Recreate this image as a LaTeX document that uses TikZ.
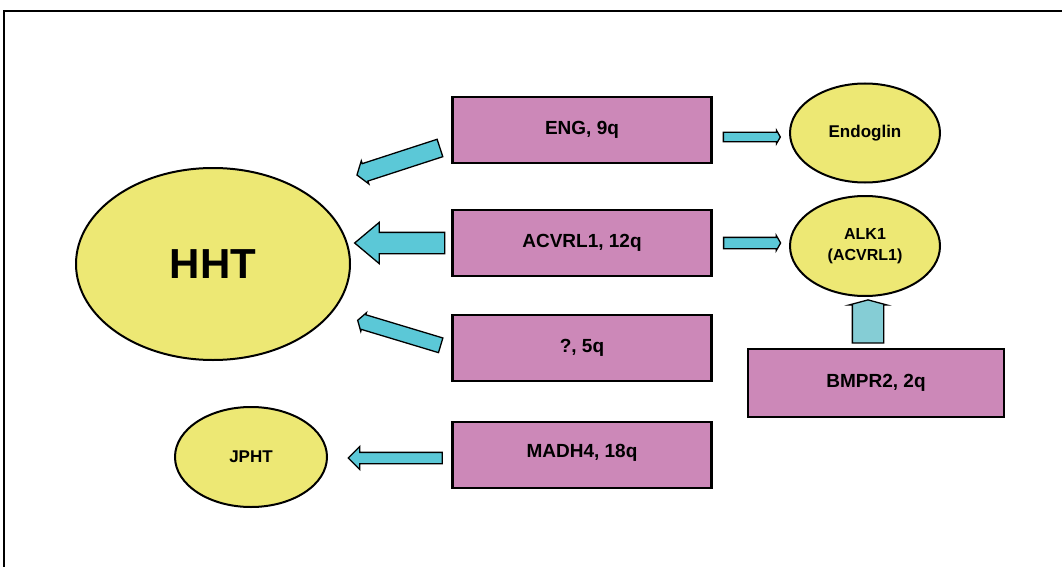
\documentclass[tikz,border=0pt]{standalone}
\usepackage{fontspec}
\setmainfont{Liberation Sans}
\usetikzlibrary{shapes.geometric,shapes.arrows,calc}
\definecolor{pinkbox}{HTML}{CC88B8}
\definecolor{yellowell}{HTML}{EDE874}
\definecolor{cyanarr}{HTML}{5BC8D7}
\definecolor{cyanlight}{HTML}{85CDD5}
\tikzset{
  ell/.style={ellipse, draw=black, line width=2pt, fill=yellowell, inner sep=0pt, font=\bfseries\fontsize{17}{20}\selectfont, align=center},
  gbox/.style={rectangle, draw=black, line width=2.5pt, fill=pinkbox, minimum width=259pt, minimum height=66pt, inner sep=0pt, font=\bfseries\fontsize{19}{22}\selectfont},
  barrow/.style={single arrow, draw=black, line width=1.3pt, fill=cyanarr, inner xsep=0pt, single arrow head indent=0pt},
}
\newcommand\blockarrow[3]{%
  \path let \p1=(#1), \p2=(#2), \n1={atan2(\y2-\y1,\x2-\x1)}, \n2={veclen(\x2-\x1,\y2-\y1)} in
    node[barrow, #3, minimum height=\n2, rotate=\n1] at ($(#1)!0.5!(#2)$) {};}
\begin{document}
\begin{tikzpicture}[x=1pt,y=-1pt]
\useasboundingbox (0,0) rectangle (1062,567);
\draw[line width=1.5pt] (4,567) -- (4,11) -- (1062,11);
% ellipses
\node[ell, minimum width=274pt, minimum height=192pt, font=\bfseries\fontsize{42}{46}\selectfont] (hht) at (213,264) {HHT};
\node[ell, minimum width=152pt, minimum height=100pt] (jpht) at (251,457) {JPHT};
\node[ell, minimum width=150pt, minimum height=99pt] (eng) at (865,133) {Endoglin};
\node[ell, minimum width=150pt, minimum height=100pt, font=\bfseries\fontsize{16}{21}\selectfont] (alk) at (865,246) {ALK1\\(ACVRL1)};
% boxes
\node[gbox] (b1) at (582,130) {ENG, 9q};
\node[gbox] (b2) at (582,243) {ACVRL1, 12q};
\node[gbox] (b3) at (582,348) {?, 5q};
\node[gbox] (b4) at (582,455) {\raisebox{8pt}{MADH4, 18q}};
\node[gbox, minimum width=256pt, minimum height=68pt] (bmp) at (876,383) {BMPR2, 2q};
% arrow end points
\coordinate (a1s) at (443,147); \coordinate (a1e) at (360,174);
\coordinate (a2s) at (451,243); \coordinate (a2e) at (361,243);
\coordinate (a3s) at (443,346); \coordinate (a3e) at (360,321);
\coordinate (a4s) at (445,458); \coordinate (a4e) at (351,458);
\coordinate (r1s) at (722,137); \coordinate (r1e) at (779,137);
\coordinate (r2s) at (722,243); \coordinate (r2e) at (779,243);
\coordinate (us) at (868,345); \coordinate (ue) at (868,302);
\blockarrow{a1s}{a1e}{inner ysep=8.5pt, single arrow head extend=3pt, single arrow tip angle=110}
\blockarrow{a2s}{a2e}{inner ysep=10pt, single arrow head extend=10pt, single arrow tip angle=80}
\blockarrow{a3s}{a3e}{inner ysep=7pt, single arrow head extend=2pt, single arrow tip angle=115}
\blockarrow{a4s}{a4e}{inner ysep=5pt, single arrow head extend=6pt, single arrow tip angle=90}
\blockarrow{r1s}{r1e}{inner ysep=4pt, single arrow head extend=2pt, single arrow tip angle=120}
\blockarrow{r2s}{r2e}{inner ysep=5pt, single arrow head extend=2pt, single arrow tip angle=120}
\blockarrow{us}{ue}{fill=cyanlight, inner ysep=15pt, single arrow head extend=3pt, single arrow tip angle=150}
\end{tikzpicture}
\end{document}
